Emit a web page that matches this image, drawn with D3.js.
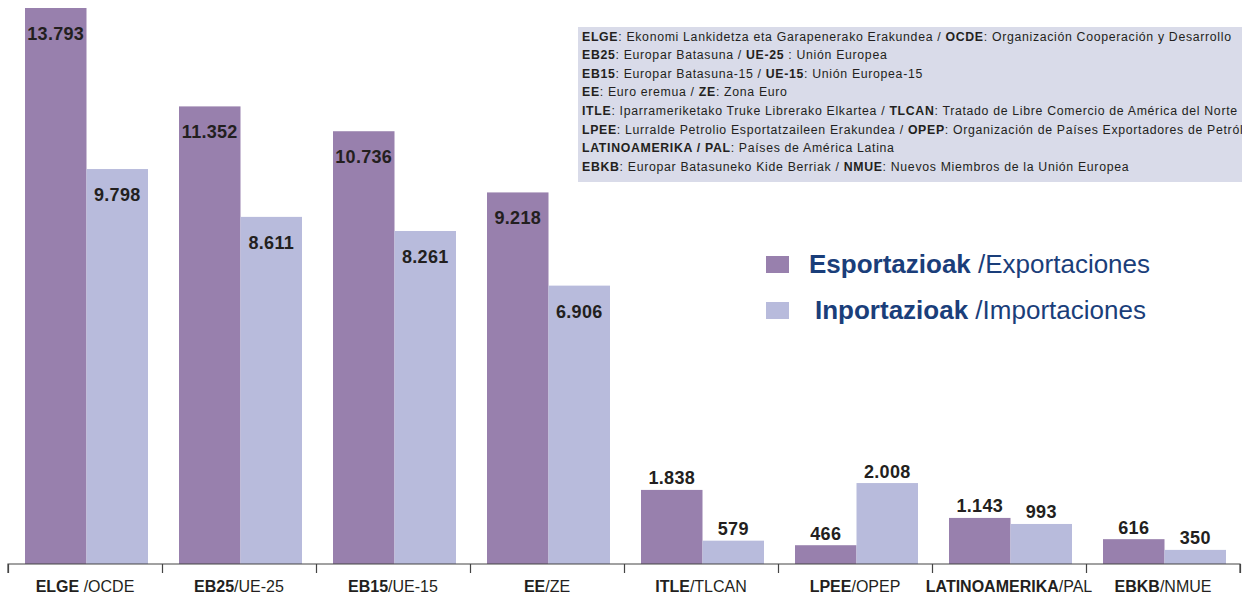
<!DOCTYPE html>
<html><head><meta charset="utf-8">
<script src="https://cdn.jsdelivr.net/npm/d3@7"></script>
<style>body{margin:0;background:#fff;overflow:hidden}svg{display:block}</style>
</head><body>
<script>
const categoriesBold = ["ELGE", "EB25", "EB15", "EE", "ITLE", "LPEE", "LATINOAMERIKA", "EBKB"];
const categoriesRest = [" /OCDE", "/UE-25", "/UE-15", "/ZE", "/TLCAN", "/OPEP", "/PAL", "/NMUE"];
const exportsVals = [13793, 11352, 10736, 9218, 1838, 466, 1143, 616];
const importsVals = [9798, 8611, 8261, 6906, 579, 2008, 993, 350];
const seriesNames = [["Esportazioak", " /Exportaciones"], ["Inportazioak", " /Importaciones"]];
const notes = [
  ["ELGE", ": Ekonomi Lankidetza eta Garapenerako Erakundea / ", "OCDE", ": Organización Cooperación y Desarrollo"],
  ["EB25", ": Europar Batasuna / ", "UE-25", " : Unión Europea"],
  ["EB15", ": Europar Batasuna-15 / ", "UE-15", ": Unión Europea-15"],
  ["EE", ": Euro eremua / ", "ZE", ": Zona Euro"],
  ["ITLE", ": Iparrameriketako Truke Librerako Elkartea / ", "TLCAN", ": Tratado de Libre Comercio de América del Norte"],
  ["LPEE", ": Lurralde Petrolio Esportatzaileen Erakundea / ", "OPEP", ": Organización de Países Exportadores de Petróleo"],
  ["LATINOAMERIKA / PAL", ": Países de América Latina", "", ""],
  ["EBKB", ": Europar Batasuneko Kide Berriak / ", "NMUE", ": Nuevos Miembros de la Unión Europea"]
];
const colors = ["#9880ad", "#b8bbdc"];

const W = 1242, H = 594;
const FONT = "Liberation Sans, Arial, sans-serif";
const svg = d3.select("body").append("svg").attr("width", W).attr("height", H);
const baseY = 564, x0 = 8, x1 = 1240;
const idx = d3.range(categoriesBold.length);
const x = d3.scaleBand().domain(idx).range([x0, x1]).paddingInner(0).paddingOuter(0);
const y = d3.scaleLinear().domain([0, 13793]).range([baseY, 8]);
const inner = d3.scaleBand().domain([0, 1]).range([17, x.bandwidth() - 14]);

// notes box
svg.append("rect").attr("x", 578).attr("y", 27).attr("width", 680).attr("height", 155).attr("fill", "#d9dbe9");
const nt = svg.append("g").attr("font-family", FONT).attr("font-size", 12.3)
  .attr("letter-spacing", 0.68).attr("fill", "#231f20");
notes.forEach((n, i) => {
  const t = nt.append("text").attr("x", 582).attr("y", 40.5 + i * 18.6);
  t.append("tspan").attr("font-weight", "bold").text(n[0]);
  t.append("tspan").text(n[1]);
  if (n[2]) t.append("tspan").attr("font-weight", "bold").text(n[2]);
  if (n[3]) t.append("tspan").text(n[3]);
});

const series = [exportsVals, importsVals];
series.forEach((vals, s) => {
  const g = svg.append("g");
  g.selectAll("rect").data(vals).join("rect")
    .attr("x", (d, i) => x(i) + inner(s))
    .attr("width", inner.bandwidth())
    .attr("y", d => y(d))
    .attr("height", d => baseY - y(d))
    .attr("fill", colors[s]);
  g.selectAll("text").data(vals).join("text")
    .attr("x", (d, i) => x(i) + inner(s) + inner.bandwidth() / 2)
    .attr("y", d => (baseY - y(d) > 150) ? y(d) + 32 : y(d) - 5.5)
    .attr("text-anchor", "middle")
    .attr("font-family", FONT)
    .attr("font-weight", "bold").attr("font-size", 18).attr("letter-spacing", 0.3).attr("fill", "#231f20")
    .text(d => d3.format(",")(d).replace(/,/g, "."));
});

// axis
const axis = d3.axisBottom(d3.scaleLinear().domain([0, idx.length]).range([x0, x1]))
  .tickValues(d3.range(idx.length + 1)).tickSize(9).tickFormat("");
const ag = svg.append("g").attr("transform", `translate(0,${baseY})`).call(axis);
ag.selectAll("path,line").attr("stroke", "#444").attr("stroke-width", 1.2);
ag.select(".domain").attr("d", `M${x0},9V0H${x1}V9`);

const lab = svg.append("g").attr("font-family", FONT).attr("font-size", 16).attr("fill", "#231f20");
idx.forEach(i => {
  const t = lab.append("text").attr("x", x(i) + x.bandwidth() / 2).attr("y", 591.5).attr("text-anchor", "middle");
  t.append("tspan").attr("font-weight", "bold").text(categoriesBold[i]);
  t.append("tspan").text(categoriesRest[i]);
});

// legend
const lg = svg.append("g").attr("font-family", FONT).attr("font-size", 26).attr("fill", "#1a3e7a");
seriesNames.forEach((n, i) => {
  lg.append("rect").attr("x", 766).attr("y", 256 + i * 46).attr("width", 23).attr("height", 17).attr("fill", colors[i]);
  const t = lg.append("text").attr("x", i === 0 ? 809 : 815).attr("y", 273 + i * 46);
  t.append("tspan").attr("font-weight", "bold").text(n[0]);
  t.append("tspan").text(n[1]);
});
</script>
</body></html>
